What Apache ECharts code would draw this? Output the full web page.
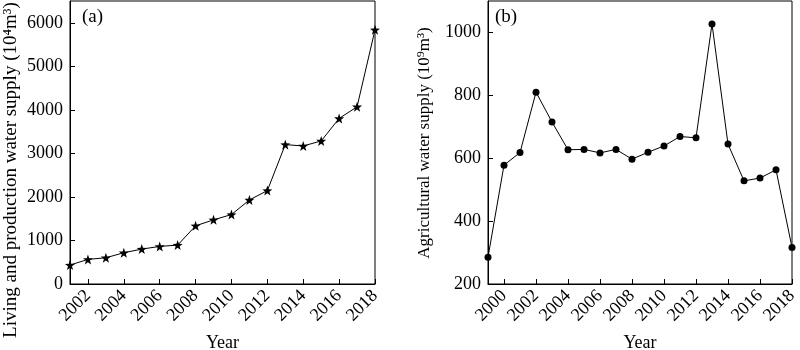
<!DOCTYPE html>
<html>
<head>
<meta charset="utf-8">
<script src="https://cdn.jsdelivr.net/npm/echarts@6/dist/echarts.min.js"></script>
<style>
  html, body { margin: 0; padding: 0; background: #fff; }
  #chart { width: 800px; height: 350px; }
</style>
</head>
<body>
<div id="chart"></div>
<script>
// (a) living and production water supply, 10^4 m^3
const yearsA = ['2001','2002','2003','2004','2005','2006','2007','2008','2009',
  '2010','2011','2012','2013','2014','2015','2016','2017','2018'];
const livingSupply = [435, 565, 603, 718, 802, 863, 893, 1336, 1473,
  1595, 1931, 2145, 3201, 3171, 3285, 3803, 4070, 5838];

// (b) agricultural water supply, 10^9 m^3
const yearsB = ['1999','2000','2001','2002','2003','2004','2005','2006','2007','2008',
  '2009','2010','2011','2012','2013','2014','2015','2016','2017','2018'];
const agriSupply = [285, 578, 618, 810, 715, 627, 628, 617, 628, 597,
  619, 639, 669, 665, 1027, 645, 528, 537, 563, 316];

const FONT = '"Liberation Serif", "Times New Roman", serif';
const STAR = 'path://M50,0L61.76,33.82L97.55,34.55L69.02,56.18L79.39,90.45L50,70L20.61,90.45L30.98,56.18L2.45,34.55L38.24,33.82Z';

const evenYear = (idx, val) => Number(val) % 2 === 0;

function xAxisFor(gridIndex, years) {
  return {
    type: 'category', gridIndex, data: years, boundaryGap: false,
    name: 'Year', nameLocation: 'middle', nameGap: 50,
    nameTextStyle: { fontFamily: FONT, fontSize: 18, color: '#000' },
    axisLine: { lineStyle: { color: '#000', width: 1 } },
    axisTick: { inside: true, length: 5, interval: evenYear, lineStyle: { color: '#000' } },
    axisLabel: { interval: evenYear, rotate: 45, margin: 9, fontFamily: FONT, fontSize: 18, color: '#000' },
    splitLine: { show: false }
  };
}

function yAxisFor(gridIndex, min, max, step) {
  return {
    type: 'value', gridIndex, min, max, interval: step,
    axisLine: { show: true, lineStyle: { color: '#000', width: 1 } },
    axisTick: { show: true, inside: true, length: 5, lineStyle: { color: '#000' } },
    axisLabel: { showMaxLabel: false, margin: 7, fontFamily: FONT, fontSize: 18, color: '#000',
      formatter: v => String(v) },
    splitLine: { show: false }
  };
}

const chart = echarts.init(document.getElementById('chart'), null, { renderer: 'canvas' });
chart.setOption({
  animation: false,
  backgroundColor: '#fff',
  grid: [
    { left: 70, right: 425, top: 1, bottom: 66, outerBoundsMode: 'none',
      show: true, borderColor: '#000', borderWidth: 1 },
    { left: 488, right: 8, top: 1, bottom: 66, outerBoundsMode: 'none',
      show: true, borderColor: '#000', borderWidth: 1 }
  ],
  xAxis: [xAxisFor(0, yearsA), xAxisFor(1, yearsB)],
  yAxis: [yAxisFor(0, 0, 6500, 1000), yAxisFor(1, 200, 1100, 200)],
  graphic: [
    { type: 'text', x: 82, y: 8, style: { text: '(a)', font: '19px ' + FONT, fill: '#000' } },
    { type: 'text', x: 495, y: 8, style: { text: '(b)', font: '19px ' + FONT, fill: '#000' } },
    { type: 'text', x: 2, y: 170, rotation: Math.PI / 2,
      style: { text: 'Living and production water supply (10⁴m³)', font: '19px ' + FONT, fill: '#000',
        align: 'center', verticalAlign: 'top' } },
    { type: 'text', x: 416, y: 143, rotation: Math.PI / 2,
      style: { text: 'Agricultural water supply (10⁹m³)', font: '17px ' + FONT, fill: '#000',
        align: 'center', verticalAlign: 'top' } }
  ],
  series: [
    {
      type: 'line', xAxisIndex: 0, yAxisIndex: 0, data: livingSupply,
      symbol: STAR, symbolSize: 10, showAllSymbol: true,
      lineStyle: { color: '#000', width: 1 }, itemStyle: { color: '#000' }
    },
    {
      type: 'line', xAxisIndex: 1, yAxisIndex: 1, data: agriSupply,
      symbol: 'circle', symbolSize: 7, showAllSymbol: true,
      lineStyle: { color: '#000', width: 1 }, itemStyle: { color: '#000' }
    }
  ]
});
</script>
</body>
</html>
